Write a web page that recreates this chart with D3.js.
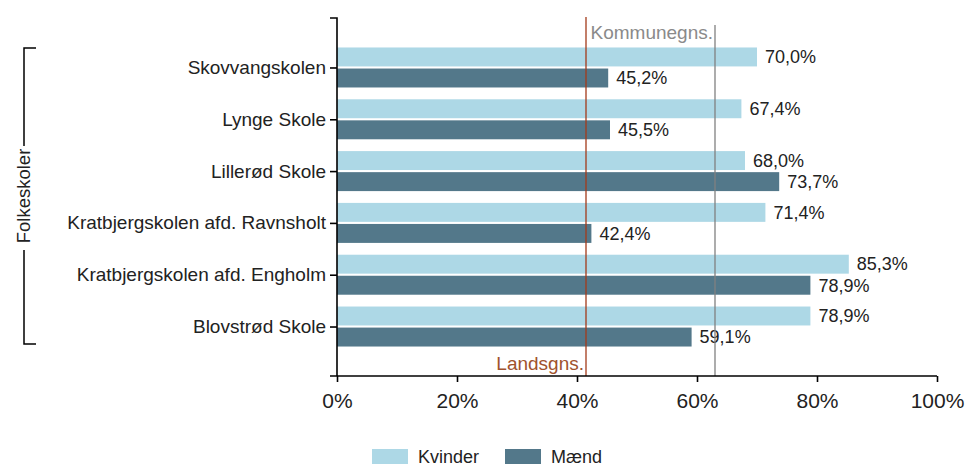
<!DOCTYPE html>
<html>
<head>
  <meta charset="utf-8">
  <script src="https://d3js.org/d3.v7.min.js"></script>
  <style>
    body { margin: 0; background: #fff; }
    svg text { font-family: "Liberation Sans", Arial, sans-serif; fill: #222; }
  </style>
</head>
<body>
  <script>
    // chart data
    var schools = ["Skovvangskolen", "Lynge Skole", "Lillerød Skole",
                   "Kratbjergskolen afd. Ravnsholt", "Kratbjergskolen afd. Engholm", "Blovstrød Skole"];
    var kvinder = [70.0, 67.4, 68.0, 71.4, 85.3, 78.9];
    var maend   = [45.2, 45.5, 73.7, 42.4, 78.9, 59.1];
    var seriesNames = ["Kvinder", "Mænd"];
    var xTicks = [0, 20, 40, 60, 80, 100];
    var groupLabel = "Folkeskoler";
    var landsgns = 41.5;
    var kommunegns = 63.0;

    var colors = { "Kvinder": "#add8e6", "Mænd": "#53788a" };

    var width = 965, height = 467;
    // note: "top" is reserved on window, so use plotTop etc.
    var plotLeft = 337, plotRight = 937, plotTop = 18, plotBottom = 376;

    var svg = d3.select("body").append("svg")
      .attr("width", width)
      .attr("height", height);

    var x = d3.scaleLinear().domain([0, 100]).range([plotLeft, plotRight]);
    var y = d3.scalePoint().domain(schools).range([plotTop, plotBottom]).padding(0.955);
    var sub = d3.scaleBand().domain(seriesNames).range([-20, 20]).paddingInner(0.1);

    var fmt = function(v) { return v.toFixed(1).replace(".", ",") + "%"; };

    var rows = schools.map(function(s, i) {
      return { school: s, vals: [kvinder[i], maend[i]] };
    });

    // bars
    var g = svg.selectAll("g.row").data(rows).enter().append("g")
      .attr("class", "row")
      .attr("transform", function(d) { return "translate(0," + y(d.school) + ")"; });

    g.selectAll("rect").data(function(d) {
        return d.vals.map(function(v, j) { return { name: seriesNames[j], v: v }; });
      }).enter().append("rect")
      .attr("x", x(0))
      .attr("y", function(d) { return sub(d.name); })
      .attr("width", function(d) { return x(d.v) - x(0); })
      .attr("height", sub.bandwidth())
      .attr("fill", function(d) { return colors[d.name]; });

    // reference lines
    svg.append("line")
      .attr("x1", x(kommunegns)).attr("x2", x(kommunegns))
      .attr("y1", 25).attr("y2", plotBottom)
      .attr("stroke", "#808080").attr("stroke-width", 1.3);
    svg.append("line")
      .attr("x1", x(landsgns)).attr("x2", x(landsgns))
      .attr("y1", 17).attr("y2", plotBottom)
      .attr("stroke", "#a33a1a").attr("stroke-width", 1.3);

    svg.append("text")
      .attr("x", x(kommunegns) - 2).attr("y", 39)
      .attr("text-anchor", "end")
      .style("font-size", "19px")
      .style("fill", "#8a8a8a")
      .text("Kommunegns.");
    svg.append("text")
      .attr("x", x(landsgns) - 2).attr("y", 370)
      .attr("text-anchor", "end")
      .style("font-size", "19px")
      .style("fill", "#a0522d")
      .text("Landsgns.");

    // value labels (drawn above lines)
    g.selectAll("text.val").data(function(d) {
        return d.vals.map(function(v, j) { return { name: seriesNames[j], v: v }; });
      }).enter().append("text")
      .attr("class", "val")
      .attr("x", function(d) { return x(d.v) + 8; })
      .attr("y", function(d) { return sub(d.name) + sub.bandwidth() / 2; })
      .attr("dy", "0.35em")
      .style("font-size", "18px")
      .text(function(d) { return fmt(d.v); });

    // axes
    var yAxis = svg.append("g")
      .attr("transform", "translate(" + plotLeft + ",0)")
      .call(d3.axisLeft(y).tickSize(7).tickSizeOuter(7).tickPadding(4));
    // extend the axis path to full height
    yAxis.select(".domain").attr("d", "M-7," + plotTop + "H0V" + plotBottom);
    yAxis.selectAll("text").style("font-size", "19px").attr("fill", "#222");
    yAxis.selectAll("line, path").attr("stroke", "#000").attr("stroke-width", 1.6);

    var xAxis = svg.append("g")
      .attr("transform", "translate(0," + plotBottom + ")")
      .call(d3.axisBottom(x).tickValues(xTicks).tickSize(6).tickSizeOuter(0)
        .tickFormat(function(d) { return d + "%"; }));
    xAxis.select(".domain").attr("d", "M" + (plotLeft - 7) + ",0H" + plotRight);
    xAxis.selectAll("text").style("font-size", "21px").attr("fill", "#222").attr("dy", "1.1em");
    xAxis.selectAll("line, path").attr("stroke", "#000").attr("stroke-width", 1.6);

    // group bracket
    var bx = 24, by1 = 48, by2 = 344, gy = 196;
    svg.append("path")
      .attr("d", "M36," + by1 + "H" + bx + "V" + (gy - 50) +
                 "M" + bx + "," + (gy + 54) + "V" + by2 + "H36")
      .attr("fill", "none").attr("stroke", "#000").attr("stroke-width", 1.5);
    svg.append("text")
      .attr("transform", "translate(" + (bx + 6) + "," + gy + ") rotate(-90)")
      .attr("text-anchor", "middle")
      .style("font-size", "18.5px")
      .text(groupLabel);

    // legend
    var legX = [372, 505];
    var leg = svg.selectAll("g.leg").data(seriesNames).enter().append("g")
      .attr("class", "leg")
      .attr("transform", function(d, i) { return "translate(" + legX[i] + ",449)"; });
    leg.append("rect").attr("width", 36).attr("height", 15)
      .attr("fill", function(d) { return colors[d]; });
    leg.append("text").attr("x", 46).attr("y", 14)
      .style("font-size", "18px")
      .text(function(d) { return d; });
  </script>
</body>
</html>
